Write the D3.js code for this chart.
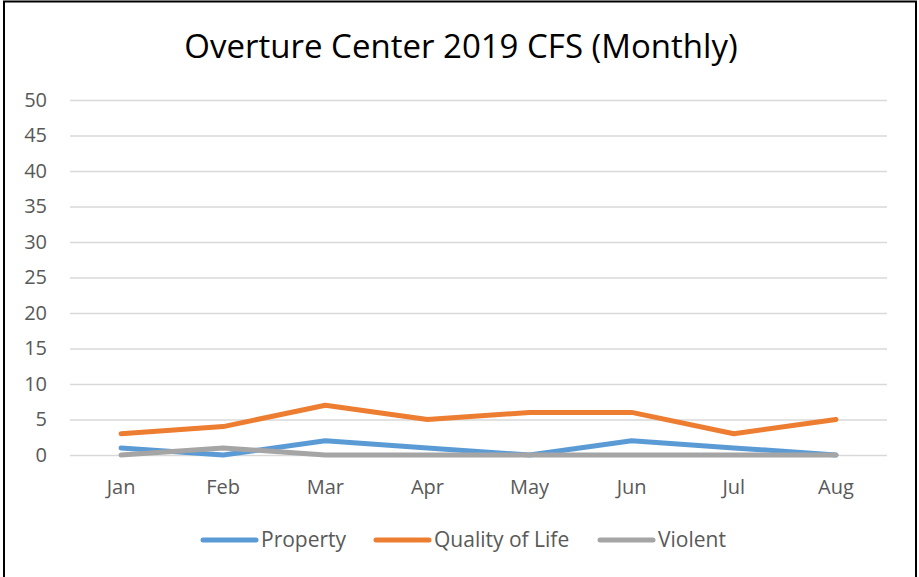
<!DOCTYPE html>
<html>
<head>
<meta charset="utf-8">
<script src="https://cdn.jsdelivr.net/npm/d3@7"></script>
<style>
  body { margin: 0; background: #fff; }
  text { font-family: "Open Sans", sans-serif; }
</style>
</head>
<body>
<div id="chart"></div>
<script>
// chart data
var months = ["Jan", "Feb", "Mar", "Apr", "May", "Jun", "Jul", "Aug"];
var property = [1, 0, 2, 1, 0, 2, 1, 0];
var qualityOfLife = [3, 4, 7, 5, 6, 6, 3, 5];
var violent = [0, 1, 0, 0, 0, 0, 0, 0];
var yTicks = [0, 5, 10, 15, 20, 25, 30, 35, 40, 45, 50];
var seriesNames = ["Property", "Quality of Life", "Violent"];
var seriesColors = ["#5b9bd5", "#ed7d31", "#a5a5a5"];

var svgWidth = 919;
var svgHeight = 577;

var margin = { top: 100, right: 32, bottom: 122, left: 70 };
var chartWidth = svgWidth - margin.left - margin.right;
var chartHeight = svgHeight - margin.top - margin.bottom;

var svg = d3.select("#chart")
    .append("svg")
    .attr("width", svgWidth)
    .attr("height", svgHeight);

// outer frame
svg.append("rect")
    .attr("x", 4)
    .attr("y", 1.5)
    .attr("width", 912)
    .attr("height", 600)
    .attr("fill", "none")
    .attr("stroke", "#000")
    .attr("stroke-width", 2);

svg.append("text")
    .attr("x", 461)
    .attr("y", 58)
    .attr("text-anchor", "middle")
    .attr("font-size", "33px")
    .attr("fill", "#000")
    .text("Overture Center 2019 CFS (Monthly)");

var chartGroup = svg.append("g")
    .attr("transform", `translate(${margin.left}, ${margin.top})`);

var xScale = d3.scaleBand().domain(months).range([0, chartWidth]);
var yScale = d3.scaleLinear().domain([0, 50]).range([chartHeight, 0]);

// gridlines + y labels
var yAxis = d3.axisLeft(yScale).tickValues(yTicks).tickSize(-chartWidth).tickPadding(23);
var yG = chartGroup.append("g").call(yAxis);
yG.select(".domain").remove();
yG.selectAll(".tick line").attr("stroke", "#d9d9d9").attr("stroke-width", 1.5);
yG.selectAll(".tick text").attr("fill", "#595959").attr("font-size", "20px")
    .style("font-family", "'Open Sans', sans-serif");

var xAxis = d3.axisBottom(xScale).tickSize(0).tickPadding(25);
var xG = chartGroup.append("g")
    .attr("transform", `translate(0, ${chartHeight})`)
    .call(xAxis);
xG.select(".domain").remove();
xG.selectAll(".tick text").attr("fill", "#595959").attr("font-size", "20px")
    .style("font-family", "'Open Sans', sans-serif");

var allSeries = [property, qualityOfLife, violent];

var line = d3.line()
    .x((d, i) => xScale(months[i]) + xScale.bandwidth() / 2)
    .y(d => yScale(d));

allSeries.forEach(function (values, i) {
    chartGroup.append("path")
        .datum(values)
        .attr("d", line)
        .attr("fill", "none")
        .attr("stroke", seriesColors[i])
        .attr("stroke-width", 5)
        .attr("stroke-linejoin", "round")
        .attr("stroke-linecap", "round");
});

// legend
var legendX = [203, 376, 600];
var legend = svg.append("g");
seriesNames.forEach(function (name, i) {
    legend.append("line")
        .attr("x1", legendX[i])
        .attr("x2", legendX[i] + 53)
        .attr("y1", 540)
        .attr("y2", 540)
        .attr("stroke", seriesColors[i])
        .attr("stroke-width", 5)
        .attr("stroke-linecap", "round");
    legend.append("text")
        .attr("x", legendX[i] + 58)
        .attr("y", 547)
        .attr("fill", "#595959")
        .attr("font-size", "21px")
        .text(name);
});
</script>
</body>
</html>
